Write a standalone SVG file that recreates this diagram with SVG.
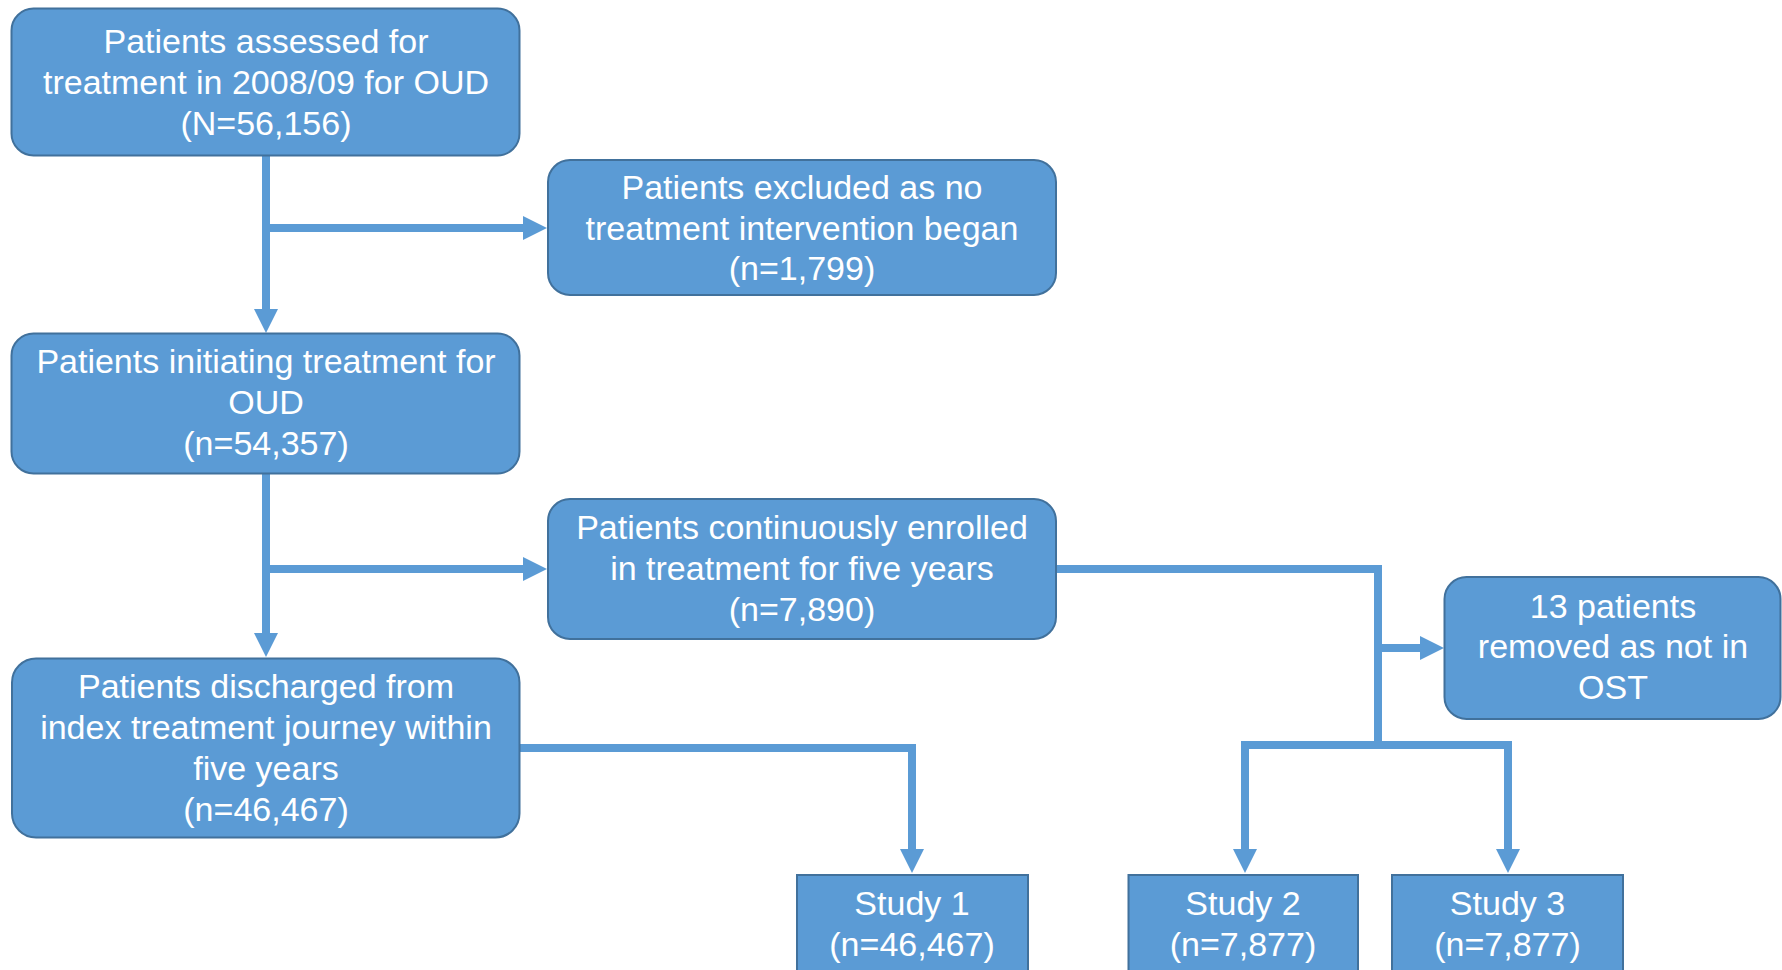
<svg xmlns="http://www.w3.org/2000/svg" width="1782" height="970" viewBox="0 0 1782 970">
<style>
.box{fill:#5B9BD5;stroke:#41719C;stroke-width:2}
.lbl{font-family:"Liberation Sans",Arial,sans-serif;font-size:34px;fill:#FFFFFF;text-anchor:middle}
.conn{fill:none;stroke:#5B9BD5;stroke-width:8;stroke-linejoin:miter}
</style>
<defs>
<marker id="arr" markerUnits="userSpaceOnUse" markerWidth="24" markerHeight="24" viewBox="0 0 24 24" refX="1" refY="12" orient="auto-start-reverse">
<path d="M0,0 L24,12 L0,24 Z" fill="#5B9BD5"/>
</marker>
</defs>
<rect width="1782" height="970" fill="#FFFFFF"/>
<g id="connectors">
<path class="conn" d="M266,156 V310" marker-end="url(#arr)"/>
<path class="conn" d="M266,228 H524" marker-end="url(#arr)"/>
<path class="conn" d="M266,474 V634" marker-end="url(#arr)"/>
<path class="conn" d="M266,569 H524" marker-end="url(#arr)"/>
<path class="conn" d="M519,748 H912 V850" marker-end="url(#arr)"/>
<path class="conn" d="M1056,569 H1378 V745"/>
<path class="conn" d="M1378,648 H1421" marker-end="url(#arr)"/>
<path class="conn" d="M1245,850 V745 H1508 V850" marker-start="url(#arr)" marker-end="url(#arr)"/>
</g>
<g id="n1">
<rect class="box" x="11.5" y="8.5" width="508" height="147" rx="22"/>
<text class="lbl" x="266" y="53">Patients assessed for</text>
<text class="lbl" x="266" y="94">treatment in 2008/09 for OUD</text>
<text class="lbl" x="266" y="135">(N=56,156)</text>
</g>
<g id="n2">
<rect class="box" x="548" y="160" width="508" height="135" rx="22"/>
<text class="lbl" x="802" y="199">Patients excluded as no</text>
<text class="lbl" x="802" y="240">treatment intervention began</text>
<text class="lbl" x="802" y="280">(n=1,799)</text>
</g>
<g id="n3">
<rect class="box" x="11.5" y="333.5" width="508" height="140" rx="22"/>
<text class="lbl" x="266" y="373">Patients initiating treatment for</text>
<text class="lbl" x="266" y="414">OUD</text>
<text class="lbl" x="266" y="455">(n=54,357)</text>
</g>
<g id="n4">
<rect class="box" x="548" y="499" width="508" height="140" rx="22"/>
<text class="lbl" x="802" y="539">Patients continuously enrolled</text>
<text class="lbl" x="802" y="580">in treatment for five years</text>
<text class="lbl" x="802" y="621">(n=7,890)</text>
</g>
<g id="n5">
<rect class="box" x="12" y="658.5" width="507.5" height="179" rx="24"/>
<text class="lbl" x="266" y="698">Patients discharged from</text>
<text class="lbl" x="266" y="739">index treatment journey within</text>
<text class="lbl" x="266" y="780">five years</text>
<text class="lbl" x="266" y="821">(n=46,467)</text>
</g>
<g id="n6">
<rect class="box" x="1444.5" y="577" width="336" height="142" rx="22"/>
<text class="lbl" x="1613" y="618">13 patients</text>
<text class="lbl" x="1613" y="658">removed as not in</text>
<text class="lbl" x="1613" y="699">OST</text>
</g>
<g id="n7">
<rect class="box" x="797" y="875" width="231" height="110"/>
<text class="lbl" x="912" y="915">Study 1</text>
<text class="lbl" x="912" y="956">(n=46,467)</text>
</g>
<g id="n8">
<rect class="box" x="1128.5" y="875" width="229.5" height="110"/>
<text class="lbl" x="1243" y="915">Study 2</text>
<text class="lbl" x="1243" y="956">(n=7,877)</text>
</g>
<g id="n9">
<rect class="box" x="1392" y="875" width="231" height="110"/>
<text class="lbl" x="1507.5" y="915">Study 3</text>
<text class="lbl" x="1507.5" y="956">(n=7,877)</text>
</g>
</svg>
